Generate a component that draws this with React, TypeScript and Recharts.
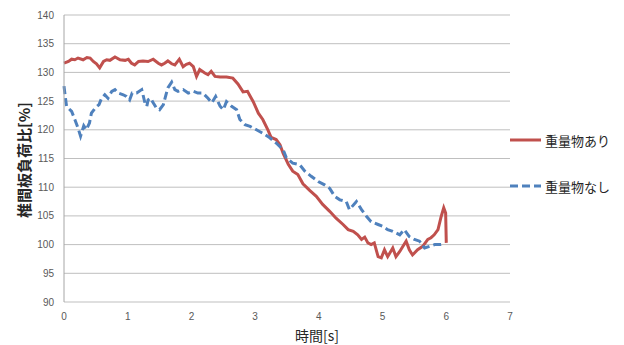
import React from "react";
import {
  LineChart, Line, XAxis, YAxis, CartesianGrid,
} from "recharts";

// 重量物あり (with load) — time [s] / ratio [%]
const withLoadT = [
  0, 0.07, 0.12, 0.17, 0.22, 0.30, 0.36, 0.41, 0.46, 0.51, 0.56, 0.62, 0.67, 0.72, 0.80, 0.88,
  0.96, 1.01, 1.06, 1.11, 1.17, 1.24, 1.32, 1.40, 1.48, 1.53, 1.58, 1.63, 1.69, 1.74, 1.81, 1.87,
  1.92, 1.97, 2.03, 2.08, 2.13, 2.21, 2.26, 2.31, 2.37, 2.45, 2.55, 2.65, 2.73, 2.81, 2.88, 2.97,
  3.05, 3.12, 3.20, 3.25, 3.33, 3.39, 3.44, 3.52, 3.59, 3.67, 3.75, 3.86, 3.96, 4.06, 4.17, 4.27,
  4.38, 4.46, 4.54, 4.61, 4.67, 4.72, 4.77, 4.82, 4.87, 4.93, 4.98, 5.03, 5.08, 5.16, 5.21, 5.27,
  5.32, 5.37, 5.42, 5.47, 5.55, 5.63, 5.71, 5.76, 5.81, 5.87, 5.92, 5.96, 5.99, 6.00,
];
const withLoadV = [
  131.6, 131.9, 132.3, 132.2, 132.5, 132.2, 132.6, 132.5, 131.9, 131.5, 130.8, 131.9, 132.2, 132.1, 132.7, 132.2,
  132.1, 132.3, 131.6, 131.3, 131.9, 132.0, 131.9, 132.3, 131.6, 131.3, 131.6, 132.0, 131.5, 131.3, 132.3, 131.0,
  131.4, 131.6, 131.0, 129.3, 130.5, 129.9, 129.6, 130.2, 129.3, 129.2, 129.2, 129.0, 128.0, 126.6, 126.7, 124.9,
  122.9, 121.8, 120.0, 118.7, 118.3, 117.4, 115.9, 114.0, 112.8, 112.2, 110.6, 109.4, 108.4, 107.0, 105.8, 104.6,
  103.5, 102.6, 102.3, 101.7, 100.9, 101.3, 100.3, 100.0, 100.3, 97.9, 97.7, 99.1, 97.9, 99.4, 97.9, 98.8,
  99.7, 100.6, 99.1, 98.2, 99.1, 99.7, 100.9, 101.2, 101.7, 102.6, 104.9, 106.4, 105.5, 100.3,
];

// 重量物なし (without load)
const noLoadT = [
  0, 0.02, 0.04, 0.12, 0.17, 0.22, 0.26, 0.31, 0.35, 0.40, 0.43, 0.49, 0.55, 0.59, 0.64, 0.69,
  0.75, 0.80, 0.85, 0.93, 0.98, 1.03, 1.07, 1.14, 1.22, 1.24, 1.27, 1.30, 1.32, 1.36, 1.40, 1.45,
  1.50, 1.56, 1.60, 1.63, 1.69, 1.74, 1.79, 1.87, 1.95, 2.03, 2.10, 2.18, 2.26, 2.32, 2.38, 2.45,
  2.50, 2.55, 2.63, 2.71, 2.76, 2.84, 2.92, 3.02, 3.12, 3.23, 3.33, 3.44, 3.49, 3.59, 3.70, 3.78,
  3.88, 3.99, 4.09, 4.17, 4.25, 4.33, 4.43, 4.48, 4.59, 4.67, 4.75, 4.82, 4.93, 5.00, 5.08, 5.16,
  5.27, 5.34, 5.42, 5.50, 5.58, 5.66, 5.74, 5.82, 5.89, 5.97,
];
const noLoadV = [
  127.6, 125.8, 124.1, 123.2, 121.8, 120.3, 118.9, 120.7, 120.0, 121.2, 122.9, 123.8, 124.4, 125.5, 126.1, 125.5,
  126.7, 127.0, 126.4, 126.1, 125.8, 125.2, 126.4, 126.4, 127.0, 126.1, 124.7, 124.1, 125.2, 125.5, 124.7, 123.8,
  123.5, 124.4, 126.1, 127.3, 128.3, 127.0, 126.7, 127.0, 126.4, 126.7, 126.4, 126.4, 125.5, 124.7, 125.8, 124.1,
  123.5, 124.9, 124.1, 123.5, 121.8, 120.9, 120.6, 120.0, 119.4, 118.6, 117.7, 116.5, 115.1, 114.2, 113.9, 112.8,
  111.9, 111.0, 110.4, 109.8, 108.4, 107.8, 107.5, 106.1, 107.5, 106.1, 104.9, 104.0, 103.5, 103.2, 102.6, 102.3,
  101.7, 102.6, 101.4, 100.9, 100.6, 99.4, 99.7, 100.0, 100.0, 100.1,
];

const xTicks = [0, 1, 2, 3, 4, 5, 6, 7];
const yTicks = [90, 95, 100, 105, 110, 115, 120, 125, 130, 135, 140];

const RED = "#C0504D";
const BLUE = "#4F81BD";
const DASH = "8 4";
const TICK = { fill: "#595959", fontSize: 10, fontFamily: "Liberation Sans, sans-serif" };
const JP = "'Noto Sans CJK JP', sans-serif";

const withLoad = withLoadT.map((t, i) => ({ t, v: withLoadV[i] }));
const noLoad = noLoadT.map((t, i) => ({ t, v: noLoadV[i] }));

function LegendItem({ color, dash, label, top }: { color: string; dash?: string; label: string; top: number }) {
  return (
    <div style={{ position: "absolute", left: 510, top: top - 10, height: 20, display: "flex", alignItems: "center" }}>
      <svg width={32} height={20}>
        <line x1={0} y1={10} x2={31} y2={10} stroke={color} strokeWidth={3} strokeDasharray={dash} />
      </svg>
      <span style={{ fontFamily: JP, fontSize: 13, color: "#262626", marginLeft: 3 }}>{label}</span>
    </div>
  );
}

export default function App() {
  return (
    <div style={{ position: "absolute", left: 0, top: 0, width: 624, height: 345, background: "#fff" }}>
      <LineChart width={624} height={345} margin={{ top: 15, right: 114, bottom: 0, left: 0 }}>
        <CartesianGrid horizontal vertical={false} stroke="#BFBFBF" />
        <XAxis
          type="number" dataKey="t" domain={[0, 7]} ticks={xTicks} height={43}
          axisLine={false} tickLine={false} tickSize={0} tickMargin={11} tick={TICK}
          allowDuplicatedCategory={false}
          label={{
            content: () => (
              <text x={317} y={341} textAnchor="middle" fontFamily={JP} fontSize={14} fill="#262626">
                時間[s]
              </text>
            ),
          }}
        />
        <YAxis
          type="number" domain={[90, 140]} ticks={yTicks} width={64} interval={0}
          axisLine={{ stroke: "#A6A6A6" }} tickLine={false} tickSize={0} tickMargin={10} tick={TICK}
          label={{
            content: () => (
              <text x={30} y={160} transform="rotate(-90 30 160)" textAnchor="middle"
                fontFamily={JP} fontSize={15} fontWeight="bold" fill="#262626">
                椎間板負荷比[%]
              </text>
            ),
          }}
        />
        <Line data={withLoad} dataKey="v" type="linear" stroke={RED} strokeWidth={3}
          dot={false} isAnimationActive={false} />
        <Line data={noLoad} dataKey="v" type="linear" stroke={BLUE} strokeWidth={3}
          strokeDasharray={DASH} dot={false} isAnimationActive={false} />
      </LineChart>
      <LegendItem color={RED} label="重量物あり" top={140} />
      <LegendItem color={BLUE} dash={DASH} label="重量物なし" top={186} />
    </div>
  );
}
